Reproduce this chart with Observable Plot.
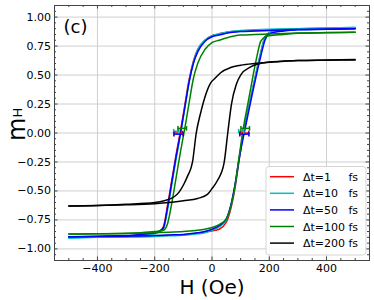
<!DOCTYPE html>
<html><head><meta charset="utf-8">
<script src="https://cdn.jsdelivr.net/npm/d3@7"></script>
<script src="https://cdn.jsdelivr.net/npm/@observablehq/plot@0.6"></script>
<style>
body{margin:0;background:#fff;}
#chart{position:relative;width:374px;height:300px;}
</style>
</head><body><div id="chart"></div>
<script>
// ---- data ----
const seriesLabels = ["Δt=1", "Δt=10", "Δt=50", "Δt=100", "Δt=200"];
const seriesUnit = "fs";
const seriesColors = ["#ff0000", "#00bfbf", "#0000ff", "#008000", "#000000"];
const xTicks = [-400, -200, 0, 200, 400];
const yTicks = [-1, -0.75, -0.5, -0.25, 0, 0.25, 0.5, 0.75, 1];

// upper (decreasing-field) branch, listed by ascending H
const hUp = [-500, -400, -300, -250, -200, -185, -170, -155, -140, -125, -110, -95, -80, -65, -50, -25, 0, 25, 50, 100, 150, 200, 300, 400, 500];
const redUp   = [-0.90, -0.895, -0.888, -0.878, -0.862, -0.85, -0.81, -0.62, -0.40, -0.18, 0.02, 0.24, 0.46, 0.62, 0.72, 0.80, 0.84, 0.855, 0.87, 0.88, 0.885, 0.89, 0.895, 0.90, 0.905];
const cyanUp  = [-0.905, -0.90, -0.895, -0.885, -0.87, -0.855, -0.83, -0.66, -0.44, -0.22, -0.01, 0.21, 0.44, 0.61, 0.72, 0.80, 0.84, 0.855, 0.87, 0.885, 0.89, 0.895, 0.90, 0.905, 0.91];
const blueUp  = [-0.895, -0.89, -0.885, -0.875, -0.86, -0.85, -0.82, -0.64, -0.42, -0.20, 0.0, 0.22, 0.44, 0.60, 0.70, 0.79, 0.83, 0.845, 0.86, 0.875, 0.88, 0.885, 0.893, 0.895, 0.90];
const greenUp = [-0.872, -0.87, -0.865, -0.86, -0.85, -0.845, -0.84, -0.78, -0.60, -0.38, -0.16, 0.04, 0.26, 0.47, 0.60, 0.72, 0.78, 0.80, 0.82, 0.845, 0.85, 0.855, 0.862, 0.866, 0.87];

// lower (increasing-field) branch
const hDn = [-500, -400, -300, -200, -150, -100, -50, -25, 0, 25, 50, 65, 80, 95, 110, 125, 140, 155, 170, 185, 200, 250, 300, 400, 500];
const redDn   = [-0.90, -0.898, -0.895, -0.888, -0.883, -0.878, -0.865, -0.855, -0.845, -0.83, -0.77, -0.66, -0.48, -0.23, 0.02, 0.19, 0.36, 0.53, 0.69, 0.83, 0.865, 0.885, 0.895, 0.90, 0.905];
const cyanDn  = [-0.905, -0.90, -0.897, -0.892, -0.887, -0.882, -0.87, -0.86, -0.84, -0.81, -0.75, -0.64, -0.46, -0.22, 0.0, 0.18, 0.36, 0.53, 0.69, 0.83, 0.865, 0.89, 0.90, 0.905, 0.91];
const blueDn  = [-0.895, -0.893, -0.89, -0.885, -0.88, -0.875, -0.86, -0.85, -0.83, -0.80, -0.74, -0.63, -0.45, -0.22, -0.03, 0.15, 0.33, 0.50, 0.66, 0.80, 0.855, 0.88, 0.89, 0.895, 0.90];
const greenDn = [-0.872, -0.87, -0.866, -0.86, -0.856, -0.85, -0.84, -0.83, -0.815, -0.79, -0.74, -0.64, -0.46, -0.20, 0.05, 0.25, 0.45, 0.64, 0.79, 0.83, 0.84, 0.85, 0.86, 0.865, 0.87];

// Δt=200 fs loop
const hBlkUp = [-500, -400, -300, -200, -167, -132, -115, -98, -85, -68, -55, -39, -22, -5, 10, 30, 65, 100, 150, 200, 300, 400, 500];
const mBlkUp = [-0.63, -0.625, -0.615, -0.60, -0.585, -0.55, -0.51, -0.44, -0.37, -0.25, 0.0, 0.18, 0.33, 0.43, 0.47, 0.52, 0.565, 0.585, 0.60, 0.61, 0.625, 0.628, 0.63];
const hBlkDn = [-500, -400, -300, -200, -150, -100, -50, -16, 0, 19, 42, 55, 68, 85, 100, 135, 193, 300, 400, 500];
const mBlkDn = [-0.63, -0.625, -0.62, -0.61, -0.60, -0.585, -0.565, -0.53, -0.48, -0.41, -0.26, 0.0, 0.25, 0.42, 0.50, 0.57, 0.61, 0.625, 0.63, 0.635];

// coercive-field error bars (first four series)
const markLeftH  = [-117, -125, -117, -104];
const markRightH = [114, 102, 113, 116];
const markHalf   = [14, 9, 16, 15];
const markM      = [0.0, 0.015, -0.01, 0.04];

// ---- build tables ----
const upSets = [redUp, cyanUp, blueUp, greenUp];
const dnSets = [redDn, cyanDn, blueDn, greenDn];
const rows = [];
for (let s = 0; s < 4; s++) {
  hUp.forEach((h, i) => rows.push({s: seriesLabels[s], key: s + "u", H: h, m: upSets[s][i]}));
  hDn.forEach((h, i) => rows.push({s: seriesLabels[s], key: s + "d", H: h, m: dnSets[s][i]}));
}
hBlkUp.forEach((h, i) => rows.push({s: seriesLabels[4], key: "4u", H: h, m: mBlkUp[i]}));
hBlkDn.forEach((h, i) => rows.push({s: seriesLabels[4], key: "4d", H: h, m: mBlkDn[i]}));

const bars = [];
for (let s = 0; s < 4; s++) {
  for (const c of [markLeftH[s], markRightH[s]]) {
    bars.push({s: seriesLabels[s], x1: c - markHalf[s], x2: c + markHalf[s], y: markM[s]});
  }
}
const caps = bars.flatMap(b => [{s: b.s, x: b.x1, y: b.y}, {s: b.s, x: b.x2, y: b.y}]);

// ---- layout ----
const W = 374, Hh = 300, mL = 54, mR = 5, mT = 5, mB = 40;
const xDom = [-550, 550], yDom = [-1.1, 1.1];
const kx = (W - mL - mR) / (xDom[1] - xDom[0]);
const ky = (Hh - mT - mB) / (yDom[1] - yDom[0]);
const xMinor = d3.range(-11, 12).map(i => i * 50);
const yMinor = d3.range(-22, 23).map(i => Math.round(i * 5) / 100);
const tickCol = "#444";
const tY = (px) => px / ky, tX = (px) => px / kx;
const isMajorY = d => yTicks.some(t => Math.abs(t - d) < 1e-9);

const plot = Plot.plot({
  width: W, height: Hh,
  marginLeft: mL, marginRight: mR, marginTop: mT, marginBottom: mB,
  style: {fontFamily: "DejaVu Sans", fontSize: "11px", color: "#000", background: "#fff"},
  x: {domain: xDom},
  y: {domain: yDom},
  color: {domain: seriesLabels, range: seriesColors},
  marks: [
    Plot.gridX(xTicks, {stroke: "#cfcfcf", strokeOpacity: 1, strokeWidth: 1}),
    Plot.gridY(yTicks, {stroke: "#cfcfcf", strokeOpacity: 1, strokeWidth: 1}),
    Plot.line(rows, {x: "H", y: "m", z: "key", stroke: "s", strokeWidth: 1.5, curve: "monotone-x"}),
    Plot.link(bars, {x1: "x1", x2: "x2", y1: "y", y2: "y", stroke: "s", strokeWidth: 1.5}),
    Plot.link(caps, {x1: "x", x2: "x", y1: d => d.y - 0.02, y2: d => d.y + 0.02, stroke: "s", strokeWidth: 1.5}),
    // inward ticks on all sides
    Plot.ruleX(xMinor, {x: d => d, y1: yDom[0], y2: d => yDom[0] + tY(xTicks.includes(d) ? 3.5 : 2), stroke: tickCol}),
    Plot.ruleX(xMinor, {x: d => d, y1: yDom[1], y2: d => yDom[1] - tY(xTicks.includes(d) ? 3.5 : 2), stroke: tickCol}),
    Plot.ruleY(yMinor, {y: d => d, x1: xDom[0], x2: d => xDom[0] + tX(isMajorY(d) ? 3.5 : 2), stroke: tickCol}),
    Plot.ruleY(yMinor, {y: d => d, x1: xDom[1], x2: d => xDom[1] - tX(isMajorY(d) ? 3.5 : 2), stroke: tickCol}),
    Plot.frame({stroke: tickCol, strokeWidth: 1}),
    Plot.axisX(xTicks, {tickSize: 0, tickPadding: 4, tickFormat: d3.format("d"), label: null}),
    Plot.axisY(yTicks, {tickSize: 0, tickPadding: 3.5, tickFormat: d3.format(".2f"), label: null}),
    Plot.text(["(c)"], {frameAnchor: "top-left", dx: 9, dy: 27, fontSize: 18, textAnchor: "start", lineAnchor: "bottom", fill: "#000"}),
    Plot.text(["H (Oe)"], {frameAnchor: "bottom", dy: 33, fontSize: 20, lineAnchor: "bottom", fill: "#000"})
  ]
});
document.getElementById("chart").appendChild(plot);

// y label with subscript
const svg = d3.select(plot);
const yl = svg.append("text")
  .attr("transform", "translate(25,141) rotate(-90)")
  .attr("text-anchor", "start")
  .attr("font-family", "DejaVu Sans").attr("fill", "#000")
  .attr("font-size", 24).text("m");
yl.append("tspan").attr("font-size", 13).attr("dy", -3).text("H");

// legend
const lg = svg.append("g").attr("font-family", "DejaVu Sans").attr("font-size", 11).attr("text-anchor", "start");
lg.append("rect").attr("x", 266).attr("y", 166.5).attr("width", 100).attr("height", 88.5)
  .attr("rx", 3).attr("fill", "#fff").attr("fill-opacity", 0.85).attr("stroke", "#d5d5d5");
seriesLabels.forEach((lab, i) => {
  const y = 176.7 + i * 16.6;
  lg.append("line").attr("x1", 270).attr("x2", 294).attr("y1", y).attr("y2", y)
    .attr("stroke", seriesColors[i]).attr("stroke-width", 1.5);
  lg.append("text").attr("x", 303).attr("y", y + 4).attr("fill", "#000").text(lab);
  lg.append("text").attr("x", 348.5).attr("y", y + 4).attr("fill", "#000").text(seriesUnit);
});
</script>
</body></html>
